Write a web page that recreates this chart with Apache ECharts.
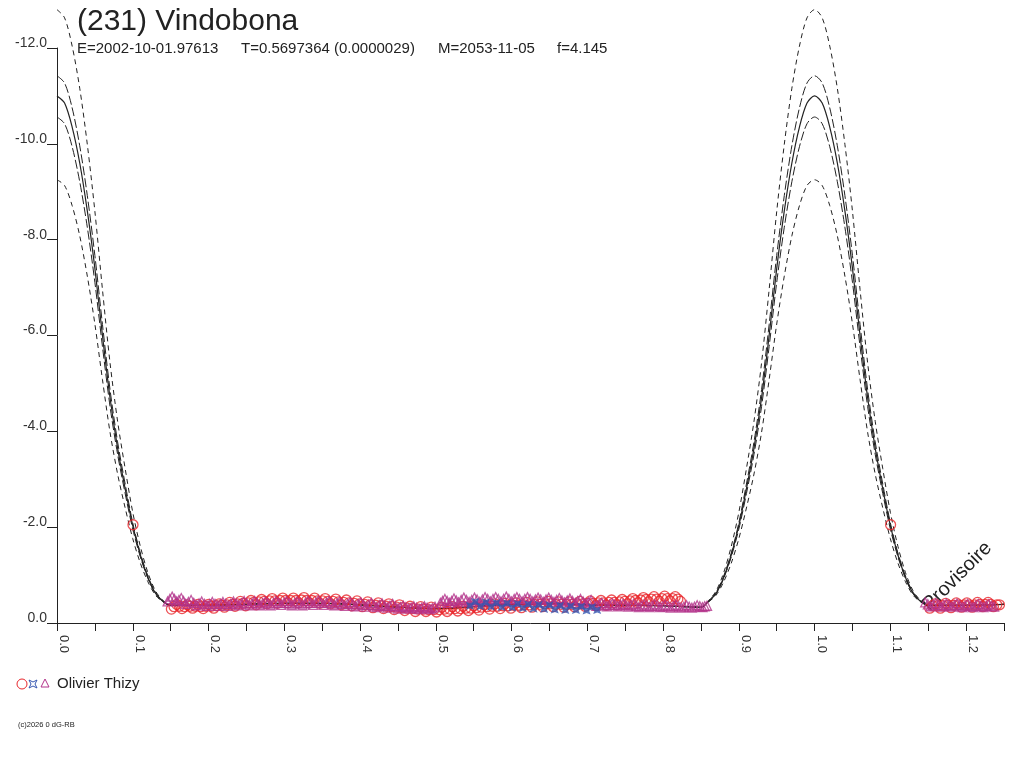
<!DOCTYPE html>
<html>
<head>
<meta charset="utf-8">
<script src="https://cdn.jsdelivr.net/npm/echarts@6.0.0/dist/echarts.min.js"></script>
<style>
html,body{margin:0;padding:0;background:#fff;}
#chart{width:1024px;height:768px;}
</style>
</head>
<body>
<div id="chart"></div>
<script>
// ---- data ----
const titleText = "(231) Vindobona";
const subtitleParts = ["E=2002-10-01.97613", "T=0.5697364 (0.0000029)", "M=2053-11-05", "f=4.145"];
const legendName = "Olivier Thizy";

// model curves: offsets from maximum (phase 0 / 1) and magnitudes
const peakOffsets = [0, 0.01, 0.02, 0.03, 0.04, 0.05, 0.06, 0.07, 0.08, 0.09, 0.10, 0.11, 0.12, 0.13, 0.14];
const curveMid     = [-11.0, -10.85, -10.35, -9.6, -8.6, -7.4, -6.0, -4.7, -3.65, -2.8, -2.03, -1.42, -0.95, -0.62, -0.45];
const curveHiOuter = [-12.8, -12.63, -12.04, -11.16, -9.99, -8.59, -6.96, -5.43, -4.21, -3.22, -2.31, -1.6, -1.05, -0.67, -0.47];
const curveHiInner = [-11.42, -11.27, -10.75, -9.96, -8.92, -7.67, -6.23, -4.87, -3.78, -2.90, -2.09, -1.46, -0.98, -0.64, -0.46];
const curveLoInner = [-10.56, -10.42, -9.94, -9.21, -8.26, -7.11, -5.77, -4.52, -3.52, -2.70, -1.96, -1.38, -0.93, -0.61, -0.45];
const curveLoOuter = [-9.25, -9.13, -8.71, -8.08, -7.24, -6.24, -5.08, -3.98, -3.11, -2.40, -1.76, -1.25, -0.86, -0.58, -0.44];
const flatPhases = [0.15, 0.20, 0.25, 0.30, 0.35, 0.40, 0.45, 0.50, 0.55, 0.60, 0.65, 0.70, 0.75, 0.80, 0.85];
const flatValues = [-0.37, -0.37, -0.39, -0.41, -0.41, -0.38, -0.33, -0.30, -0.34, -0.39, -0.40, -0.38, -0.37, -0.36, -0.33];

// observations [phase, magnitude]
const obsCircles = [
[0.1003,-2.05],[1.1003,-2.05],
[0.151,-0.29],[0.158,-0.39],[0.165,-0.30],[0.172,-0.38],[0.179,-0.31],[0.186,-0.39],[0.193,-0.30],[0.200,-0.39],
[0.207,-0.31],[0.214,-0.40],[0.221,-0.33],[0.228,-0.43],[0.235,-0.35],[0.242,-0.45],[0.249,-0.36],[0.256,-0.47],
[0.263,-0.38],[0.270,-0.49],[0.277,-0.40],[0.284,-0.51],[0.291,-0.41],[0.298,-0.52],[0.305,-0.42],[0.312,-0.52],
[0.319,-0.42],[0.326,-0.53],[0.333,-0.42],[0.340,-0.52],[0.347,-0.41],[0.354,-0.51],[0.361,-0.40],[0.368,-0.50],
[0.375,-0.38],[0.382,-0.48],[0.389,-0.36],[0.396,-0.46],[0.403,-0.34],[0.410,-0.44],[0.417,-0.32],[0.424,-0.42],
[0.431,-0.30],[0.438,-0.40],[0.445,-0.28],[0.452,-0.38],[0.459,-0.26],[0.466,-0.35],[0.473,-0.24],[0.480,-0.34],
[0.487,-0.24],[0.494,-0.33],[0.501,-0.23],[0.508,-0.33],[0.515,-0.24],[0.522,-0.34],[0.529,-0.25],[0.536,-0.35],
[0.543,-0.26],[0.550,-0.36],[0.557,-0.27],[0.564,-0.38],[0.571,-0.29],[0.578,-0.40],[0.585,-0.30],[0.592,-0.41],
[0.599,-0.31],[0.606,-0.42],[0.613,-0.32],[0.620,-0.43],[0.627,-0.33],[0.634,-0.44],[0.641,-0.34],[0.648,-0.45],
[0.655,-0.34],[0.662,-0.44],[0.669,-0.33],[0.676,-0.44],[0.683,-0.34],[0.690,-0.45],[0.697,-0.35],[0.704,-0.46],
[0.711,-0.36],[0.718,-0.47],[0.725,-0.37],[0.732,-0.48],[0.739,-0.38],[0.746,-0.49],[0.753,-0.40],[0.760,-0.51],
[0.767,-0.42],[0.774,-0.53],[0.781,-0.44],[0.788,-0.55],[0.795,-0.45],[0.802,-0.56],[0.809,-0.46],[0.816,-0.55],
[0.823,-0.45],
[1.152,-0.31],[1.159,-0.40],[1.166,-0.31],[1.173,-0.41],[1.180,-0.32],[1.187,-0.42],[1.194,-0.33],[1.201,-0.42],
[1.208,-0.33],[1.215,-0.43],[1.222,-0.34],[1.229,-0.43],[1.236,-0.34],[1.244,-0.38]
];
const obsCircles2 = [
[0.1545,-0.34],[0.1615,-0.35],[0.1685,-0.34],[0.1755,-0.35],[0.1825,-0.35],[0.1895,-0.34],[0.1965,-0.35],[0.2035,-0.35],
[0.2105,-0.36],[0.2175,-0.37],[0.2245,-0.38],[0.2315,-0.39],[0.2385,-0.40],[0.2455,-0.41],[0.2525,-0.42],[0.2595,-0.43],
[0.2665,-0.44],[0.2735,-0.45],[0.2805,-0.46],[0.2875,-0.46],[0.2945,-0.47],[0.3015,-0.47],[0.3085,-0.47],[0.3155,-0.47],
[0.3225,-0.48],[0.3295,-0.47],[0.3365,-0.47],[0.3435,-0.46],[0.3505,-0.46],[0.3575,-0.45],[0.3645,-0.45],[0.3715,-0.44],
[0.3785,-0.43],[0.3855,-0.42],[0.3925,-0.41],[0.3995,-0.40],[0.4065,-0.39],[0.4135,-0.38],[0.4205,-0.37],[0.4275,-0.36],
[0.4345,-0.35],[0.4415,-0.34],[0.4485,-0.33],[0.4555,-0.32],[0.4625,-0.31],[0.4695,-0.30],[0.4765,-0.29],[0.4835,-0.29],
[0.4905,-0.28],[0.4975,-0.28],[0.5045,-0.28],[0.5115,-0.29],[0.5185,-0.29],[0.5255,-0.30],[0.5325,-0.30],[0.5395,-0.31],
[0.5465,-0.31],[0.5535,-0.32],[0.5605,-0.33],[0.5675,-0.34],[0.5745,-0.35],[0.5815,-0.35],[0.5885,-0.36],[0.5955,-0.36],
[0.6025,-0.37],[0.6095,-0.37],[0.6165,-0.38],[0.6235,-0.38],[0.6305,-0.39],[0.6375,-0.39],[0.6445,-0.40],[0.6515,-0.40],
[0.6585,-0.39],[0.6655,-0.39],[0.6725,-0.39],[0.6795,-0.39],[0.6865,-0.40],[0.6935,-0.40],[0.7005,-0.41],[0.7075,-0.41],
[0.7145,-0.42],[0.7215,-0.42],[0.7285,-0.43],[0.7355,-0.43],[0.7425,-0.44],[0.7495,-0.45],[0.7565,-0.46],[0.7635,-0.47],
[0.7705,-0.48],[0.7775,-0.49],[0.7845,-0.50],[0.7915,-0.50],[0.7985,-0.51],[0.8055,-0.51],[0.8125,-0.51],[0.8195,-0.50],
[1.1555,-0.36],[1.1625,-0.36],[1.1695,-0.36],[1.1765,-0.37],[1.1835,-0.37],[1.1905,-0.38],[1.1975,-0.38],[1.2045,-0.38],
[1.2115,-0.38],[1.2185,-0.39],[1.2255,-0.39],[1.2325,-0.39],[1.2405,-0.38]
];
const obsTriangles = [
[0.146,-0.45],[0.152,-0.55],[0.158,-0.45],[0.164,-0.52],[0.170,-0.40],[0.177,-0.48],[0.184,-0.37],[0.191,-0.45],
[0.198,-0.36],[0.205,-0.44],[0.212,-0.36],[0.219,-0.44],[0.226,-0.36],[0.233,-0.45],[0.240,-0.37],[0.247,-0.46],
[0.254,-0.37],[0.261,-0.46],[0.268,-0.37],[0.275,-0.45],[0.282,-0.37],[0.289,-0.46],[0.296,-0.38],[0.303,-0.46],
[0.310,-0.37],[0.317,-0.45],[0.324,-0.37],[0.331,-0.46],[0.338,-0.38],[0.345,-0.47],[0.352,-0.38],[0.359,-0.46],
[0.366,-0.37],[0.373,-0.45],[0.380,-0.36],[0.387,-0.44],[0.394,-0.35],[0.401,-0.43],[0.408,-0.34],[0.415,-0.42],
[0.422,-0.33],[0.429,-0.41],[0.436,-0.32],[0.443,-0.40],[0.450,-0.30],[0.457,-0.36],[0.464,-0.30],[0.471,-0.35],
[0.478,-0.29],[0.485,-0.35],[0.492,-0.29],[0.499,-0.34],
[0.506,-0.42],[0.512,-0.50],[0.518,-0.42],[0.524,-0.51],[0.530,-0.43],[0.537,-0.53],[0.544,-0.44],[0.551,-0.53],
[0.558,-0.44],[0.565,-0.54],[0.572,-0.45],[0.579,-0.54],[0.586,-0.45],[0.593,-0.55],[0.600,-0.45],[0.607,-0.54],
[0.614,-0.45],[0.621,-0.54],[0.628,-0.45],[0.635,-0.53],[0.642,-0.44],[0.649,-0.53],[0.656,-0.44],[0.663,-0.52],
[0.670,-0.43],[0.677,-0.51],[0.684,-0.42],[0.691,-0.50],[0.698,-0.41],[0.705,-0.48],
[0.712,-0.36],[0.719,-0.42],[0.726,-0.35],[0.733,-0.41],[0.740,-0.35],[0.747,-0.40],[0.754,-0.34],[0.761,-0.40],
[0.768,-0.33],[0.775,-0.39],[0.782,-0.33],[0.789,-0.39],[0.796,-0.33],[0.803,-0.38],[0.810,-0.32],[0.817,-0.38],
[0.824,-0.32],[0.831,-0.37],[0.838,-0.32],[0.845,-0.37],[0.852,-0.33],[0.858,-0.36],
[1.146,-0.43],[1.153,-0.35],[1.160,-0.42],[1.167,-0.34],[1.174,-0.41],[1.181,-0.34],[1.188,-0.41],[1.195,-0.33],
[1.202,-0.40],[1.209,-0.33],[1.216,-0.40],[1.223,-0.33],[1.230,-0.39],[1.237,-0.34]
];
const obsTriangles2 = [
[0.149,-0.50],[0.155,-0.50],[0.161,-0.48],[0.167,-0.46],[0.1735,-0.44],[0.1805,-0.42],[0.1875,-0.41],[0.1945,-0.40],
[0.2015,-0.40],[0.2085,-0.40],[0.2155,-0.40],[0.2225,-0.40],[0.2295,-0.40],[0.2365,-0.41],[0.2435,-0.41],[0.2505,-0.41],
[0.2575,-0.41],[0.2645,-0.41],[0.2715,-0.41],[0.2785,-0.41],[0.2855,-0.41],[0.2925,-0.42],[0.2995,-0.42],[0.3065,-0.41],
[0.3135,-0.41],[0.3205,-0.41],[0.3275,-0.41],[0.3345,-0.42],[0.3415,-0.42],[0.3485,-0.42],[0.3555,-0.42],[0.3625,-0.41],
[0.3695,-0.41],[0.3765,-0.40],[0.3835,-0.40],[0.3905,-0.39],[0.3975,-0.39],[0.4045,-0.38],[0.4115,-0.38],[0.4185,-0.37],
[0.4255,-0.37],[0.4325,-0.36],[0.4395,-0.36],[0.4465,-0.35],[0.4535,-0.33],[0.4605,-0.33],[0.4675,-0.32],[0.4745,-0.32],
[0.4815,-0.32],[0.4885,-0.32],[0.4955,-0.31],
[0.509,-0.46],[0.515,-0.46],[0.521,-0.46],[0.527,-0.47],[0.5335,-0.48],[0.5405,-0.48],[0.5475,-0.48],[0.5545,-0.49],
[0.5615,-0.49],[0.5685,-0.50],[0.5755,-0.50],[0.5825,-0.50],[0.5895,-0.50],[0.5965,-0.50],[0.6035,-0.50],[0.6105,-0.50],
[0.6175,-0.50],[0.6245,-0.50],[0.6315,-0.49],[0.6385,-0.49],[0.6455,-0.49],[0.6525,-0.48],[0.6595,-0.48],[0.6665,-0.47],
[0.6735,-0.47],[0.6805,-0.46],[0.6875,-0.46],[0.6945,-0.45],[0.7015,-0.44],
[0.7155,-0.39],[0.7225,-0.38],[0.7295,-0.38],[0.7365,-0.38],[0.7435,-0.38],[0.7505,-0.37],[0.7575,-0.37],[0.7645,-0.36],
[0.7715,-0.36],[0.7785,-0.36],[0.7855,-0.36],[0.7925,-0.36],[0.7995,-0.35],[0.8065,-0.35],[0.8135,-0.35],[0.8205,-0.35],
[0.8275,-0.34],[0.8345,-0.34],[0.8415,-0.34],[0.8485,-0.35],[0.855,-0.35],
[1.1495,-0.39],[1.1565,-0.38],[1.1635,-0.38],[1.1705,-0.37],[1.1775,-0.37],[1.1845,-0.37],[1.1915,-0.37],[1.1985,-0.36],
[1.2055,-0.36],[1.2125,-0.36],[1.2195,-0.36],[1.2265,-0.36],[1.2335,-0.36]
];
const obsStars = [
[0.545,-0.36],[0.552,-0.44],[0.559,-0.35],[0.566,-0.43],[0.573,-0.34],[0.580,-0.42],[0.587,-0.33],[0.594,-0.41],
[0.601,-0.32],[0.608,-0.40],[0.615,-0.31],[0.622,-0.39],[0.629,-0.30],[0.636,-0.38],[0.643,-0.29],[0.650,-0.37],
[0.657,-0.28],[0.664,-0.36],[0.671,-0.27],[0.678,-0.35],[0.685,-0.27],[0.692,-0.34],[0.699,-0.26],[0.706,-0.33],
[0.713,-0.27]
];

// ---- build curve polylines from the arrays ----
function buildCurve(vals) {
  const pts = [];
  for (let i = 0; i < peakOffsets.length; i++) pts.push([peakOffsets[i], vals[i]]);
  for (let i = 0; i < flatPhases.length; i++) pts.push([flatPhases[i], flatValues[i]]);
  for (let i = peakOffsets.length - 1; i >= 0; i--) pts.push([1 - peakOffsets[i], vals[i]]);
  for (let i = 1; i < peakOffsets.length; i++) pts.push([1 + peakOffsets[i], vals[i]]);
  for (let i = 0; i < flatPhases.length; i++) {
    if (flatPhases[i] <= 0.25) pts.push([1 + flatPhases[i], flatValues[i]]);
  }
  return pts;
}

const INK = '#222';
const RED = '#e8262b';
const PURPLE = '#b3338b';
const BLUE = '#3556b0';
const NOFILL = 'rgba(255,255,255,0)';
const FONT = '"Liberation Sans", Arial, sans-serif';

function curveSeries(vals, dash, width) {
  return {
    type: 'line', data: buildCurve(vals), showSymbol: false, symbol: 'none',
    smooth: 0.3, clip: false, z: 1, silent: true,
    lineStyle: { color: INK, width: width, type: dash }
  };
}

const chart = echarts.init(document.getElementById('chart'), null, { renderer: 'canvas' });
chart.setOption({
  backgroundColor: '#fff',
  animation: false,
  grid: { left: 57, right: 20, top: 48, bottom: 145, containLabel: false },
  xAxis: {
    type: 'value', min: 0, max: 1.25, interval: 0.05,
    axisLine: { show: true, lineStyle: { color: INK, width: 1 } },
    axisTick: { show: true, length: 8, lineStyle: { color: INK } },
    splitLine: { show: false },
    axisLabel: {
      rotate: -90, margin: 12, fontSize: 13, color: '#333', fontFamily: FONT,
      verticalAlign: 'bottom',
      formatter: function (v) { const k = Math.round(v * 20); return k % 2 === 0 ? (k / 20).toFixed(1) : ''; }
    }
  },
  yAxis: {
    type: 'value', min: -12, max: 0, interval: 2, inverse: true,
    axisLine: { show: true, lineStyle: { color: INK, width: 1 } },
    axisTick: { show: true, length: 10, lineStyle: { color: INK } },
    splitLine: { show: false },
    axisLabel: {
      margin: 10, fontSize: 14, color: '#333', fontFamily: FONT, verticalAlign: 'bottom', lineHeight: 10,
      formatter: function (v) { return v.toFixed(1); }
    }
  },
  series: [
    curveSeries(curveHiOuter, [5, 4], 1),
    curveSeries(curveLoOuter, [5, 4], 1),
    curveSeries(curveHiInner, [9, 3], 1),
    curveSeries(curveLoInner, [9, 3], 1),
    curveSeries(curveMid, 'solid', 1.2),
    { type: 'scatter', data: obsCircles.concat(obsCircles2), symbol: 'circle', symbolSize: 10, z: 2, silent: true,
      itemStyle: { color: NOFILL, borderColor: RED, borderWidth: 1.3 } },
    { type: 'scatter', data: obsTriangles.concat(obsTriangles2), symbol: 'triangle', symbolSize: 9, z: 3, silent: true,
      itemStyle: { color: NOFILL, borderColor: PURPLE, borderWidth: 1.3 } },
    { type: 'scatter', data: obsStars, symbol: 'path://M0,0L5,2L10,0L8,5L10,10L5,8L0,10L2,5Z', symbolSize: 8, z: 4, silent: true,
      itemStyle: { color: BLUE } }
  ],
  graphic: [
    { type: 'text', x: 77, y: 22, style: { text: titleText, font: '30px ' + FONT, fill: INK, textVerticalAlign: 'middle' } },
    { type: 'text', x: 77, y: 49, style: { text: subtitleParts[0], font: '15px ' + FONT, fill: INK, textVerticalAlign: 'middle' } },
    { type: 'text', x: 241, y: 49, style: { text: subtitleParts[1], font: '15px ' + FONT, fill: INK, textVerticalAlign: 'middle' } },
    { type: 'text', x: 438, y: 49, style: { text: subtitleParts[2], font: '15px ' + FONT, fill: INK, textVerticalAlign: 'middle' } },
    { type: 'text', x: 557, y: 49, style: { text: subtitleParts[3], font: '15px ' + FONT, fill: INK, textVerticalAlign: 'middle' } },
    { type: 'text', x: 933, y: 615, rotation: Math.PI / 4,
      style: { text: 'Provisoire', font: '20px ' + FONT, fill: INK, textAlign: 'left', textVerticalAlign: 'bottom' } },
    { type: 'circle', shape: { cx: 22, cy: 684, r: 5 }, style: { fill: 'none', stroke: RED, lineWidth: 1 } },
    { type: 'polygon', shape: { points: [[29,680],[33,682],[37,680],[35,684],[37,688],[33,686],[29,688],[31,684]] },
      style: { fill: 'none', stroke: BLUE, lineWidth: 1 } },
    { type: 'polygon', shape: { points: [[41,687],[49,687],[45,679]] }, style: { fill: 'none', stroke: PURPLE, lineWidth: 1 } },
    { type: 'text', x: 57, y: 684, style: { text: legendName, font: '15px ' + FONT, fill: INK, textVerticalAlign: 'middle' } },
    { type: 'text', x: 18, y: 725, style: { text: '(c)2026 0 dG-RB', font: '7.5px ' + FONT, fill: INK, textVerticalAlign: 'middle' } }
  ]
});
</script>
</body>
</html>
